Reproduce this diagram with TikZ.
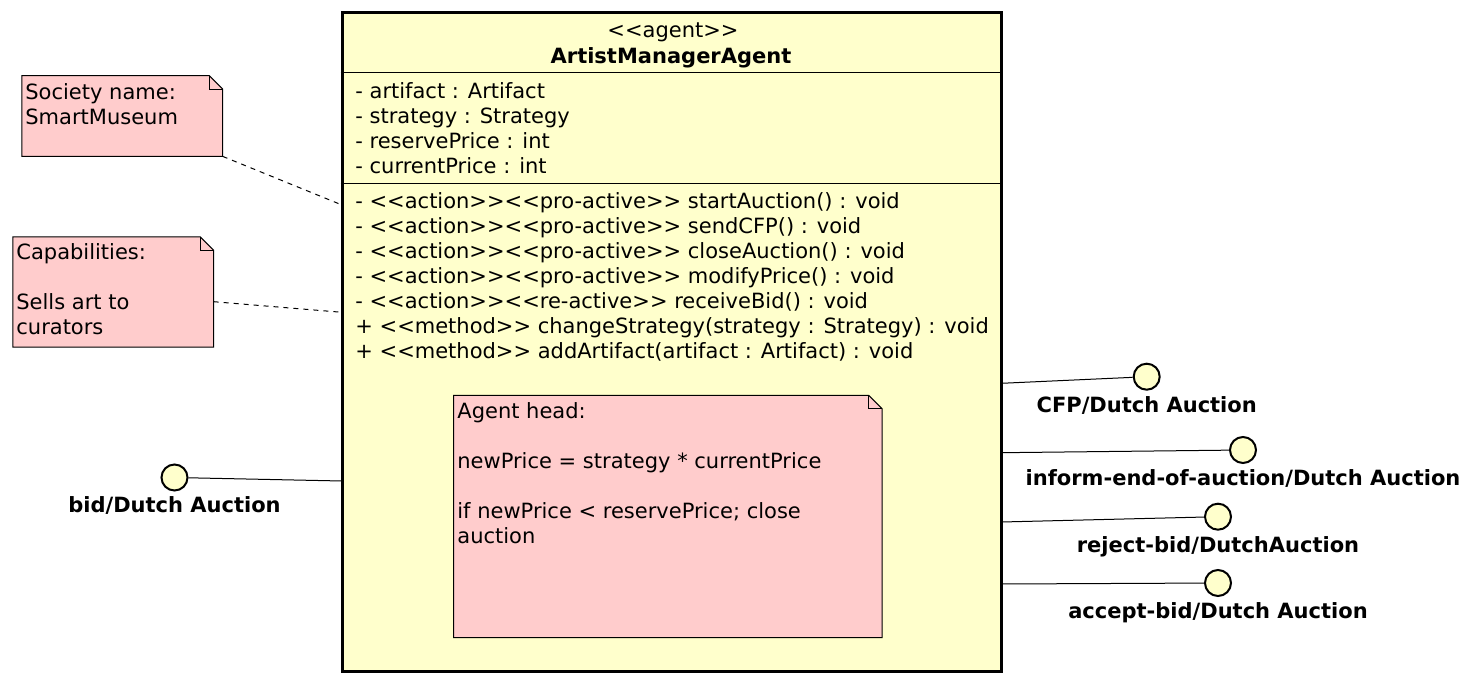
\documentclass[tikz,border=0pt]{standalone}
\usepackage{fontspec}
\usepackage{xcolor}
\usetikzlibrary{positioning}
\newfontfamily\umlfont{DejaVu Sans}
\definecolor{agentyellow}{HTML}{FFFFCC}
\definecolor{notepink}{HTML}{FFCCCC}

\begin{document}
\begin{tikzpicture}[x=0.5pt, y=-0.5pt, font=\umlfont\fontsize{10.5}{12.5}\selectfont,
    agentbox/.style={draw, line width=1.5pt, fill=agentyellow, inner sep=0},
    notebox/.style={inner sep=0},
    umltext/.style={anchor=base west, inner sep=0},
    port/.style={circle, draw, line width=1pt, fill=agentyellow, minimum size=13pt, inner sep=0},
    portlabel/.style={font=\umlfont\fontsize{10.5}{12.5}\selectfont\bfseries, inner sep=0},
    link/.style={line width=0.5pt},
    notelink/.style={line width=0.5pt, dash pattern=on 2.5pt off 2.5pt}]
    \useasboundingbox (0,0) rectangle (1474,685);
    % agent class
    \node[agentbox, minimum width=329.75pt, minimum height=329.6pt] (agent) at (671.75,342.1) {};
    \draw[link] (agent.west |- 0,72.7) -- (agent.east |- 0,72.7);
    \draw[link] (agent.west |- 0,183.3) -- (agent.east |- 0,183.3);
    \node[anchor=base, inner sep=0] (stereo) at (673,37.7) {<<agent>>};
    \node[portlabel, anchor=base] (agentname) at (671,63.3) {ArtistManagerAgent};
    \foreach \i/\txt in {1/- artifact : Artifact, 2/- strategy : Strategy, 3/- reservePrice : int, 4/- currentPrice : int}
        \node[umltext] (attr\i) at (355,73.3+25*\i) {\txt};
    \foreach \i/\txt in {1/- <<action>><<pro-active>> startAuction() : void,
                         2/- <<action>><<pro-active>> sendCFP() : void,
                         3/- <<action>><<pro-active>> closeAuction() : void,
                         4/- <<action>><<pro-active>> modifyPrice() : void,
                         5/- <<action>><<re-active>> receiveBid() : void,
                         6/+ <<method>> changeStrategy(strategy : Strategy) : void,
                         7/+ <<method>> addArtifact(artifact : Artifact) : void}
        \node[umltext] (meth\i) at (355,183.3+25*\i) {\txt};
    % notes
    \node[notebox, minimum width=100pt, minimum height=40pt] (society) at (122.3,116) {};
    \node[notebox, minimum width=100pt, minimum height=54.7pt] (caps) at (113.3,292) {};
    \node[notebox, minimum width=213.85pt, minimum height=120.8pt] (head) at (667.85,516.5) {};
    \foreach \n in {society,caps,head}{
        \filldraw[line width=0.5pt, fill=notepink] (\n.north west) -- ([xshift=-6.7pt]\n.north east) -- ([yshift=-6.7pt]\n.north east) -- (\n.south east) -- (\n.south west) -- cycle;
        \draw[line width=0.5pt] ([xshift=-6.7pt]\n.north east) |- ([yshift=-6.7pt]\n.north east);
    }
    \foreach \i/\y/\txt in {1/99/Society name:, 2/124/SmartMuseum}
        \node[umltext] (society\i) at (25,\y) {\txt};
    \foreach \i/\y/\txt in {1/259.5/Capabilities:, 2/309.5/Sells art to, 3/334.5/curators}
        \node[umltext] (caps\i) at (16,\y) {\txt};
    \foreach \i/\y/\txt in {1/418.3/Agent head:, 2/468/{newPrice = strategy * currentPrice}, 3/518/{if newPrice < reservePrice; close}, 4/543/auction}
        \node[umltext] (head\i) at (457,\y) {\txt};
    \coordinate (socpin) at (342,205);
    \coordinate (capspin) at (342,312.3);
    \draw[notelink] (society.south east) -- (socpin);
    \draw[notelink] ([yshift=-4.85pt]caps.east) -- (capspin);
    % interfaces
    \node[port] (bidport) at (174.5,477.5) {};
    \node[port] (cfpport) at (1146.7,376.7) {};
    \node[port] (informport) at (1243,450) {};
    \node[port] (rejectport) at (1218,516.7) {};
    \node[port] (acceptport) at (1218,583) {};
    \foreach \p/\name in {bid/{bid/Dutch Auction}, cfp/{CFP/Dutch Auction}, inform/{inform-end-of-auction/Dutch Auction}, reject/{reject-bid/DutchAuction}, accept/{accept-bid/Dutch Auction}}
        \node[portlabel, below=2.5pt of \p port] (\p label) {\name};
    \coordinate (bidpin) at (342,481);
    \coordinate (cfppin) at (1001.5,383.3);
    \coordinate (informpin) at (1001.5,452.7);
    \coordinate (rejectpin) at (1001.5,522);
    \coordinate (acceptpin) at (1001.5,584);
    \foreach \p in {bid,cfp,inform,reject,accept}
        \draw[link] (\p port) -- (\p pin);
\end{tikzpicture}
\end{document}
